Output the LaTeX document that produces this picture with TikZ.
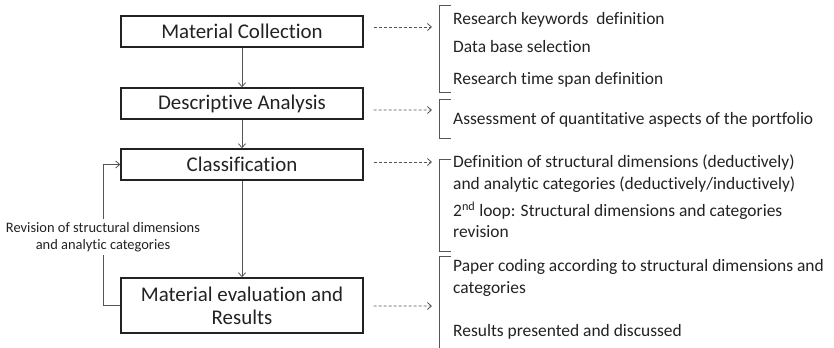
\documentclass[tikz,border=0pt]{standalone}
\usepackage{fontspec}
\setmainfont{Carlito}[Ligatures=NoCommon]
\usetikzlibrary{arrows.meta}
\definecolor{linegray}{HTML}{555555}
\definecolor{ink}{HTML}{222222}
\begin{document}
\begin{tikzpicture}[x=1bp,y=-1bp,
  stagebox/.style={draw=ink,line width=1.4bp,minimum width=242bp,inner sep=0pt,
    font=\fontsize{21}{23}\selectfont,align=center,text=ink},
  flow/.style={draw=linegray,line width=0.8bp,-{Straight Barb[length=4bp,width=7bp]}},
  dasharr/.style={draw=linegray,line width=0.8bp,dash pattern=on 3bp off 2bp,
    -{Straight Barb[length=4bp,width=7bp]}},
  brace/.style={draw=linegray,line width=0.9bp},
  item/.style={anchor=west,inner sep=0pt,font=\fontsize{17.5}{20}\selectfont,text=ink},
  looplabel/.style={fill=white,inner sep=3bp,align=center,font=\fontsize{14.5}{17}\selectfont,text=ink}]
\useasboundingbox (0,0) rectangle (834,347);

% process stages
\node[stagebox,minimum height=31bp] (b1) at (242,31.5) {Material Collection};
\node[stagebox,minimum height=31bp] (b2) at (242,103.5) {Descriptive Analysis};
\node[stagebox,minimum height=31bp] (b3) at (242,164.5) {Classification};
\node[stagebox,minimum height=55bp] (b4) at (242,305.5) {Material evaluation and\\Results};

\draw[flow] (b1) -- (b2);
\draw[flow] (b2) -- (b3);
\draw[flow] (b3) -- (b4);

% feedback loop
\draw[flow] (b4.west) -- ++(-17,0) |- (b3.west);
\node[looplabel] (rev) at (103,237) {Revision of structural dimensions\\and analytic categories};

% bracket tips
\coordinate (k1) at (432,27);
\coordinate (k2) at (432,110);
\coordinate (k3) at (432,162);
\coordinate (k4) at (432,306);
\draw[dasharr] ([shift={(10,-4.5)}]b1.east) -- (k1);
\draw[dasharr] ([shift={(10,6.5)}]b2.east) -- (k2);
\draw[dasharr] ([shift={(10,-2.5)}]b3.east) -- (k3);
\draw[dasharr] ([shift={(10,0.5)}]b4.east) -- (k4);

% brackets
\draw[brace] (451,5) -- (439,5) -- (439,92) -- (451,92);
\draw[brace] (451,99) -- (439,99) -- (439,138) -- (451,138);
\draw[brace] (451,159) -- (439,159) -- (439,251) -- (451,251);
\draw[brace] (451,256) -- (439,256) -- (439,350);

% details
\node[item] (t1) at (453,20) {Research keywords\ \ definition};
\node[item] (t2) at (453,47) {Data base selection};
\node[item] (t3) at (453,80) {Research time span definition};
\node[item] (t4) at (453,120) {Assessment of quantitative aspects of the portfolio};
\node[item] (t5) at (453,163) {Definition of structural dimensions (deductively)};
\node[item] (t6) at (453,185) {and analytic categories (deductively/inductively)};
\node[item] (t7) at (453,211) {2\textsuperscript{nd} loop: Structural dimensions and categories};
\node[item] (t8) at (453,232) {revision};
\node[item] (t9) at (453,267) {Paper coding according to structural dimensions and};
\node[item] (t10) at (453,289) {categories};
\node[item] (t11) at (453,332) {Results presented and discussed};
\end{tikzpicture}
\end{document}
